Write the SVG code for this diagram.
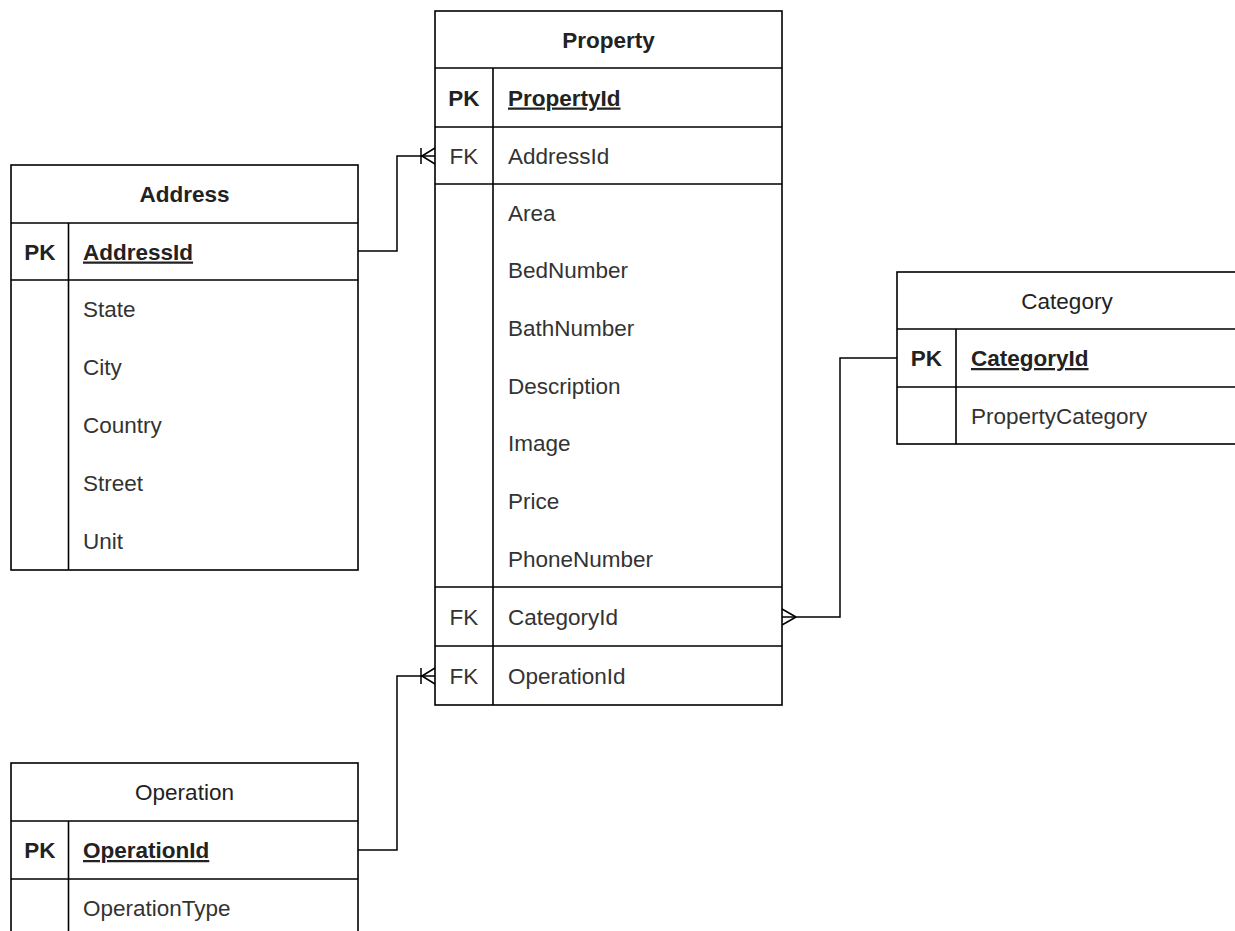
<svg xmlns="http://www.w3.org/2000/svg" width="1235" height="931" viewBox="0 0 1235 931">
  <defs>
    <style>
      .box { fill: #ffffff; stroke: #000000; stroke-width: 1.6; }
      .ln { fill: none; stroke: #000000; stroke-width: 1.6; }
      .edge { fill: none; stroke: #000000; stroke-width: 1.5; }
      text { font-family: "Liberation Sans", Arial, sans-serif; font-size: 22.5px; fill: #333333; }
      .hdr { text-anchor: middle; fill: #222222; }
      .hb { font-weight: bold; }
      .key { text-anchor: middle; }
      .pk { font-weight: bold; fill: #222222; }
      .pkname { font-weight: bold; fill: #222222; text-decoration: underline; }
    </style>
    <!-- one-and-only-one bar plus crow's foot (one or many) -->
    <marker id="oneMany" markerUnits="userSpaceOnUse" markerWidth="30" markerHeight="30" refX="0" refY="0" viewBox="-20 -15 30 30" orient="auto" overflow="visible">
      <path d="M-14,-8 V8 M-13,0 L0,-8 M-13,0 L0,8" fill="none" stroke="#000" stroke-width="1.5"/>
    </marker>
    <!-- crow's foot only (many) -->
    <marker id="many" markerUnits="userSpaceOnUse" markerWidth="30" markerHeight="30" refX="0" refY="0" viewBox="-20 -15 30 30" orient="auto" overflow="visible">
      <path d="M-14,0 L0,-8 M-14,0 L0,8" fill="none" stroke="#000" stroke-width="1.5"/>
    </marker>
  </defs>

  <rect width="1235" height="931" fill="#ffffff"/>

  <!-- Property table -->
  <g id="property">
    <rect class="box" x="435" y="11" width="347" height="694"/>
    <path class="ln" d="M435,68 H782 M435,127 H782 M435,184 H782 M435,587 H782 M435,646 H782 M493,68 V705"/>
    <text class="hdr hb" x="608.5" y="47.5">Property</text>
    <text class="key pk" x="464" y="105.5">PK</text>
    <text class="pkname" x="508" y="105.5">PropertyId</text>
    <text class="key" x="464" y="163.5">FK</text>
    <text x="508" y="163.5">AddressId</text>
    <text x="508" y="220.5">Area</text>
    <text x="508" y="278">BedNumber</text>
    <text x="508" y="336">BathNumber</text>
    <text x="508" y="393.5">Description</text>
    <text x="508" y="451">Image</text>
    <text x="508" y="509">Price</text>
    <text x="508" y="566.5">PhoneNumber</text>
    <text class="key" x="464" y="624.5">FK</text>
    <text x="508" y="624.5">CategoryId</text>
    <text class="key" x="464" y="683.5">FK</text>
    <text x="508" y="683.5">OperationId</text>
  </g>

  <!-- Address table -->
  <g id="address">
    <rect class="box" x="11" y="165" width="347" height="405"/>
    <path class="ln" d="M11,223 H358 M11,280 H358 M68.5,223 V570"/>
    <text class="hdr hb" x="184.5" y="202">Address</text>
    <text class="key pk" x="40" y="259.5">PK</text>
    <text class="pkname" x="83" y="259.5">AddressId</text>
    <text x="83" y="317">State</text>
    <text x="83" y="375">City</text>
    <text x="83" y="433">Country</text>
    <text x="83" y="491">Street</text>
    <text x="83" y="549">Unit</text>
  </g>

  <!-- Category table (runs past the right edge) -->
  <g id="category">
    <rect class="box" x="897" y="272" width="345" height="172"/>
    <path class="ln" d="M897,329 H1242 M897,387 H1242 M956,329 V444"/>
    <text class="hdr" x="1067" y="308.5">Category</text>
    <text class="key pk" x="926.5" y="366">PK</text>
    <text class="pkname" x="971" y="366">CategoryId</text>
    <text x="971" y="423.5">PropertyCategory</text>
  </g>

  <!-- Operation table (runs past the bottom edge) -->
  <g id="operation">
    <rect class="box" x="11" y="763" width="347" height="180"/>
    <path class="ln" d="M11,821 H358 M11,879 H358 M68.5,821 V943"/>
    <text class="hdr" x="184.5" y="800">Operation</text>
    <text class="key pk" x="40" y="858">PK</text>
    <text class="pkname" x="83" y="858">OperationId</text>
    <text x="83" y="916">OperationType</text>
  </g>

  <!-- Relationships -->
  <g id="connectors">
    <path class="edge" d="M358,251 H397 V156 H435" marker-end="url(#oneMany)"/>
    <path class="edge" d="M358,850 H397 V676 H435" marker-end="url(#oneMany)"/>
    <path class="edge" d="M897,358 H840 V617 H782" marker-end="url(#many)"/>
  </g>
</svg>
